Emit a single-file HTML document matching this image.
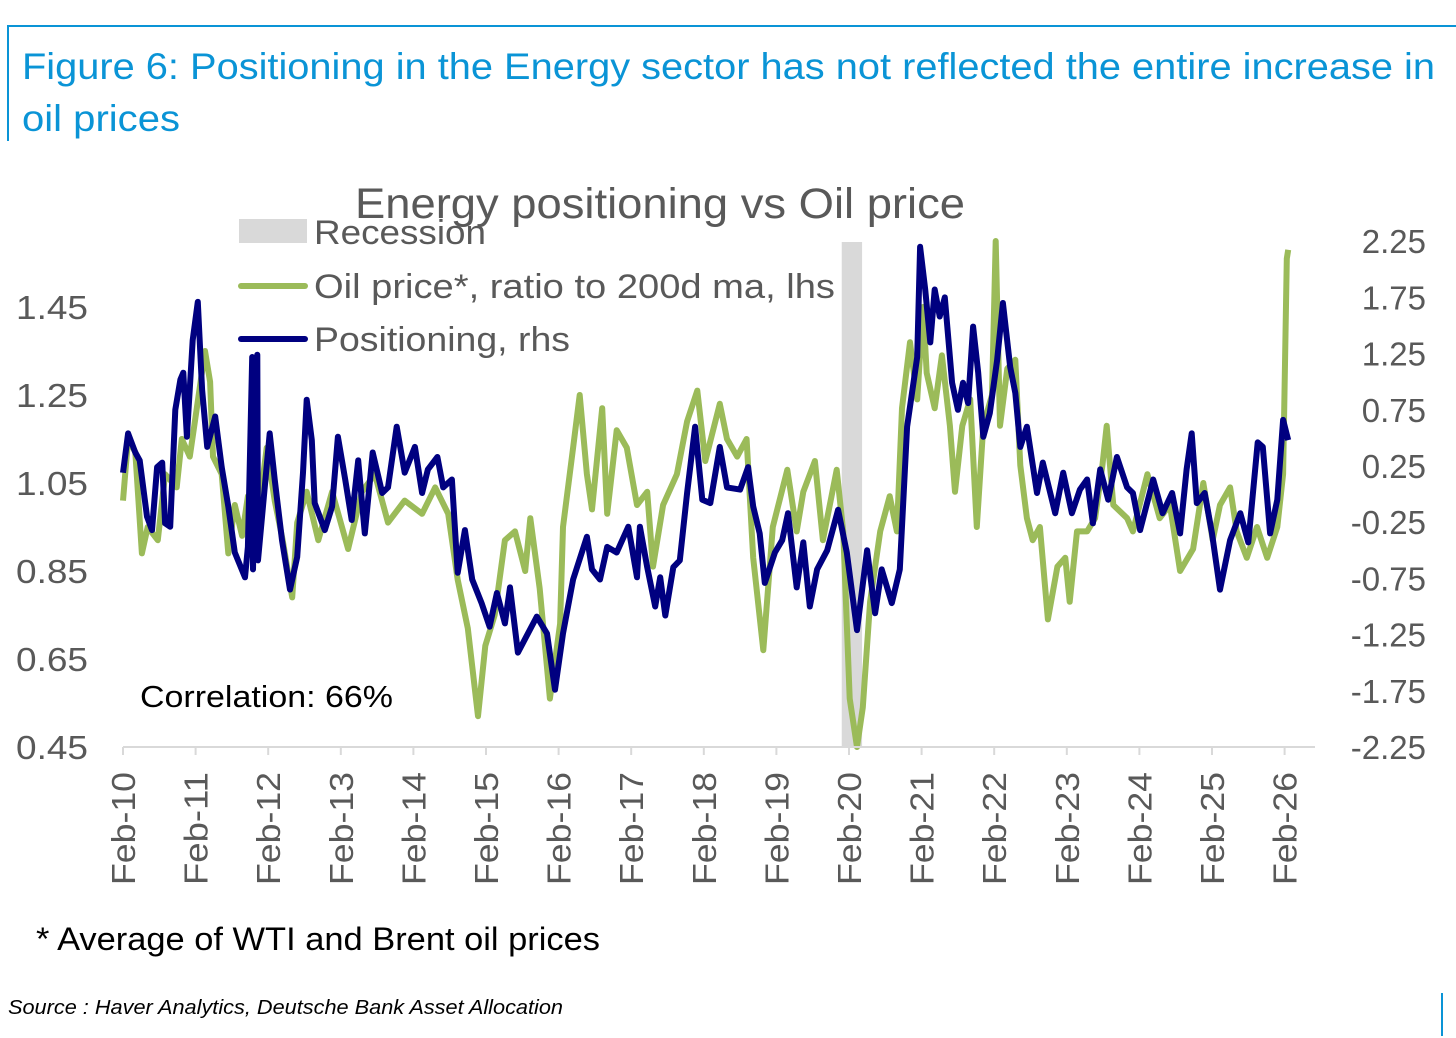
<!DOCTYPE html>
<html><head><meta charset="utf-8"><style>
body{margin:0;background:#fff;width:1456px;height:1038px;overflow:hidden;font-family:"Liberation Sans",Arial,sans-serif}
svg{display:block}
</style></head><body>
<svg id="chart" width="1456" height="1038" font-family="Liberation Sans, Arial, sans-serif">
<line x1="7" y1="26" x2="1456" y2="26" stroke="#0a94d6" stroke-width="2"/>
<line x1="8" y1="26" x2="8" y2="141" stroke="#0a94d6" stroke-width="2"/>
<text x="22" y="79" font-size="37" fill="#0a94d6" textLength="1413" lengthAdjust="spacingAndGlyphs">Figure 6: Positioning in the Energy sector has not reflected the entire increase in</text>
<text x="22" y="131" font-size="37" fill="#0a94d6" textLength="158" lengthAdjust="spacingAndGlyphs">oil prices</text>
<text x="355" y="218" font-size="43" fill="#595959" textLength="610" lengthAdjust="spacingAndGlyphs">Energy positioning vs Oil price</text>
<g id="plot"></g>
<g id="axes"></g>
<g>
<rect x="239" y="219" width="68" height="24" fill="#d9d9d9"/>
<text x="314" y="244" font-size="34" fill="#595959" textLength="172" lengthAdjust="spacingAndGlyphs">Recession</text>
<line x1="241" y1="286" x2="305" y2="286" stroke="#9bbb59" stroke-width="6" stroke-linecap="round"/>
<text x="314" y="298" font-size="34" fill="#595959" textLength="521" lengthAdjust="spacingAndGlyphs">Oil price*, ratio to 200d ma, lhs</text>
<line x1="241" y1="339" x2="305" y2="339" stroke="#000080" stroke-width="6" stroke-linecap="round"/>
<text x="314" y="351" font-size="34" fill="#595959" textLength="256" lengthAdjust="spacingAndGlyphs">Positioning, rhs</text>
</g>
<text x="140" y="707" font-size="31" fill="#000" textLength="253" lengthAdjust="spacingAndGlyphs">Correlation: 66%</text>
<text x="36" y="950" font-size="32" fill="#000" textLength="564" lengthAdjust="spacingAndGlyphs">* Average of WTI and Brent oil prices</text>
<text x="8" y="1014" font-size="20" font-style="italic" fill="#000" textLength="555" lengthAdjust="spacingAndGlyphs">Source : Haver Analytics, Deutsche Bank Asset Allocation</text>
<line x1="1442" y1="993" x2="1442" y2="1036" stroke="#0a94d6" stroke-width="2"/>
</svg>
<script>
const xTickLabels=["Feb-10","Feb-11","Feb-12","Feb-13","Feb-14","Feb-15","Feb-16","Feb-17","Feb-18","Feb-19","Feb-20","Feb-21","Feb-22","Feb-23","Feb-24","Feb-25","Feb-26"];
const leftTicks=[0.45,0.65,0.85,1.05,1.25,1.45];
const rightTicks=[-2.25,-1.75,-1.25,-0.75,-0.25,0.25,0.75,1.25,1.75,2.25];
const recession=[2019.98,2020.26];
const oilDates=[2010.08,2010.15,2010.25,2010.34,2010.42,2010.56,2010.66,2010.82,2010.89,2011.00,2011.07,2011.21,2011.28,2011.32,2011.44,2011.53,2011.62,2011.72,2011.80,2011.90,2012.06,2012.17,2012.28,2012.41,2012.48,2012.61,2012.77,2012.96,2013.18,2013.37,2013.55,2013.73,2013.96,2014.20,2014.38,2014.56,2014.69,2014.83,2014.97,2015.07,2015.20,2015.34,2015.48,2015.62,2015.69,2015.82,2015.96,2016.10,2016.14,2016.28,2016.37,2016.47,2016.54,2016.68,2016.75,2016.88,2017.02,2017.16,2017.30,2017.38,2017.52,2017.71,2017.85,2017.99,2018.10,2018.30,2018.40,2018.54,2018.67,2018.76,2018.90,2019.03,2019.23,2019.36,2019.45,2019.61,2019.72,2019.91,2020.00,2020.09,2020.19,2020.27,2020.37,2020.51,2020.64,2020.74,2020.81,2020.92,2021.02,2021.10,2021.15,2021.26,2021.36,2021.47,2021.54,2021.64,2021.75,2021.84,2021.93,2022.05,2022.10,2022.16,2022.26,2022.37,2022.44,2022.53,2022.61,2022.71,2022.82,2022.95,2023.06,2023.12,2023.22,2023.36,2023.47,2023.57,2023.63,2023.72,2023.91,2023.99,2024.19,2024.36,2024.50,2024.64,2024.82,2024.96,2025.09,2025.19,2025.33,2025.42,2025.56,2025.70,2025.84,2025.98,2026.06,2026.11,2026.13];
const oilValues=[1.01,1.15,1.12,0.89,0.95,0.92,1.07,1.04,1.15,1.11,1.19,1.35,1.28,1.11,1.07,0.89,1.00,0.93,1.02,0.92,1.13,1.01,0.92,0.79,0.96,1.03,0.92,1.03,0.90,1.03,1.07,0.96,1.01,0.98,1.04,0.98,0.83,0.72,0.52,0.68,0.75,0.92,0.94,0.85,0.97,0.81,0.56,0.73,0.95,1.13,1.25,1.07,0.99,1.22,0.98,1.17,1.13,1.00,1.03,0.86,1.00,1.07,1.19,1.26,1.10,1.23,1.15,1.11,1.15,0.88,0.67,0.95,1.08,0.94,1.03,1.10,0.92,1.08,0.94,0.56,0.45,0.54,0.78,0.94,1.02,0.94,1.22,1.37,1.24,1.45,1.30,1.22,1.34,1.18,1.03,1.18,1.24,0.95,1.18,1.25,1.60,1.18,1.31,1.33,1.09,0.97,0.92,0.95,0.74,0.86,0.88,0.78,0.94,0.94,0.97,1.09,1.18,1.00,0.97,0.94,1.07,0.97,1.00,0.85,0.90,1.05,0.92,1.00,1.04,0.94,0.88,0.95,0.88,0.95,1.07,1.56,1.58];
const posDates=[2010.08,2010.15,2010.25,2010.31,2010.41,2010.48,2010.55,2010.62,2010.66,2010.73,2010.80,2010.87,2010.91,2010.96,2011.04,2011.11,2011.17,2011.24,2011.35,2011.44,2011.53,2011.62,2011.76,2011.80,2011.86,2011.87,2011.93,2011.94,2012.10,2012.17,2012.27,2012.38,2012.48,2012.56,2012.61,2012.68,2012.72,2012.86,2012.96,2013.04,2013.14,2013.23,2013.32,2013.41,2013.52,2013.65,2013.73,2013.85,2013.96,2014.10,2014.20,2014.28,2014.41,2014.49,2014.61,2014.69,2014.79,2014.89,2015.02,2015.13,2015.23,2015.34,2015.41,2015.52,2015.78,2015.92,2016.03,2016.14,2016.28,2016.47,2016.54,2016.65,2016.75,2016.88,2017.04,2017.16,2017.20,2017.30,2017.41,2017.48,2017.55,2017.66,2017.75,2017.85,2017.96,2018.06,2018.17,2018.30,2018.40,2018.58,2018.69,2018.76,2018.85,2018.92,2019.06,2019.16,2019.24,2019.36,2019.45,2019.54,2019.64,2019.78,2019.93,2020.05,2020.19,2020.33,2020.44,2020.53,2020.67,2020.78,2020.88,2021.02,2021.06,2021.13,2021.20,2021.26,2021.33,2021.40,2021.50,2021.58,2021.65,2021.72,2021.79,2021.86,2021.93,2022.02,2022.12,2022.20,2022.30,2022.37,2022.44,2022.53,2022.67,2022.75,2022.92,2023.03,2023.15,2023.26,2023.36,2023.44,2023.54,2023.65,2023.77,2023.91,2023.99,2024.09,2024.27,2024.40,2024.53,2024.64,2024.73,2024.80,2024.87,2024.98,2025.08,2025.19,2025.33,2025.47,2025.58,2025.71,2025.78,2025.88,2025.98,2026.06,2026.13];
const posValues=[0.19,0.54,0.37,0.30,-0.20,-0.32,0.24,0.28,-0.26,-0.29,0.75,1.02,1.08,0.51,1.37,1.71,0.93,0.42,0.69,0.24,-0.11,-0.52,-0.74,-0.47,1.22,-0.67,1.24,-0.59,0.54,0.13,-0.41,-0.85,-0.56,0.19,0.84,0.48,-0.08,-0.32,-0.11,0.51,0.13,-0.23,0.30,-0.35,0.37,0.01,0.06,0.60,0.19,0.42,0.01,0.22,0.33,0.06,0.13,-0.70,-0.32,-0.76,-0.97,-1.18,-0.88,-1.15,-0.83,-1.41,-1.09,-1.24,-1.74,-1.24,-0.76,-0.38,-0.67,-0.76,-0.47,-0.52,-0.29,-0.74,-0.29,-0.65,-1.00,-0.74,-1.08,-0.65,-0.59,0.01,0.60,-0.05,-0.08,0.42,0.06,0.04,0.24,-0.11,-0.35,-0.79,-0.52,-0.41,-0.17,-0.83,-0.43,-1.00,-0.67,-0.50,-0.14,-0.52,-1.21,-0.50,-1.06,-0.67,-0.97,-0.67,0.60,1.22,2.20,1.82,1.35,1.82,1.58,1.75,0.99,0.75,0.99,0.81,1.49,1.08,0.51,0.72,1.19,1.70,1.13,0.90,0.42,0.60,0.01,0.28,-0.17,0.19,-0.17,0.04,0.13,-0.26,0.22,-0.05,0.33,0.06,0.01,-0.32,0.13,-0.17,0.01,-0.35,0.22,0.54,-0.08,0.01,-0.35,-0.85,-0.41,-0.17,-0.43,0.46,0.42,-0.35,-0.05,0.66,0.48];

const NS="http://www.w3.org/2000/svg";
const X0=123,PXY=72.6,T0=2010.08,YB=747;
const xs=t=>X0+(t-T0)*PXY;
const yl=v=>YB-(v-0.45)/0.2*88;
const yr=v=>YB-(v+2.25)/0.5*56.2;
function mk(tag,attrs,parent){const e=document.createElementNS(NS,tag);for(const k in attrs)e.setAttribute(k,attrs[k]);parent.appendChild(e);return e;}
const plot=document.getElementById('plot'),axes=document.getElementById('axes');
const rec=mk('rect',{x:xs(recession[0]),y:242,width:xs(recession[1])-xs(recession[0]),height:YB-242,fill:'#d9d9d9'},plot);


const oil=mk('path',{d:oilDates.map((t,i)=>(i?'L':'M')+xs(t).toFixed(1)+' '+yl(oilValues[i]).toFixed(1)).join(''),fill:'none',stroke:'#9bbb59','stroke-width':6,'stroke-linejoin':'round'},plot);


const pos=mk('path',{d:posDates.map((t,i)=>(i?'L':'M')+xs(t).toFixed(1)+' '+yr(posValues[i]).toFixed(1)).join(''),fill:'none',stroke:'#000080','stroke-width':6,'stroke-linejoin':'round'},plot);


const ax=mk('line',{x1:X0,y1:YB,x2:1315,y2:YB,stroke:'#d9d9d9','stroke-width':2},axes);


xTickLabels.forEach((lab,i)=>{
  const x=xs(T0+i);
  const tk=mk('line',{x1:x,y1:YB,x2:x,y2:YB+8,stroke:'#d9d9d9','stroke-width':2},axes);
  
  
  const tx=mk('text',{x:0,y:0,transform:`translate(${x+12},772) rotate(-90)`,'text-anchor':'end','font-size':33,fill:'#595959',textLength:113,lengthAdjust:'spacingAndGlyphs'},axes);
  tx.textContent=lab;
  
  
});
leftTicks.forEach(v=>{
  const t=mk('text',{x:16,y:yl(v)+12,'font-size':33,fill:'#595959',textLength:72,lengthAdjust:'spacingAndGlyphs'},axes);
  t.textContent=v.toFixed(2);
  
  
});
rightTicks.forEach(v=>{
  const t=mk('text',{x:1426,y:yr(v)+12,'text-anchor':'end','font-size':33,fill:'#595959'},axes);
  t.textContent=v.toFixed(2);
  
  
});
</script>
</body></html>
